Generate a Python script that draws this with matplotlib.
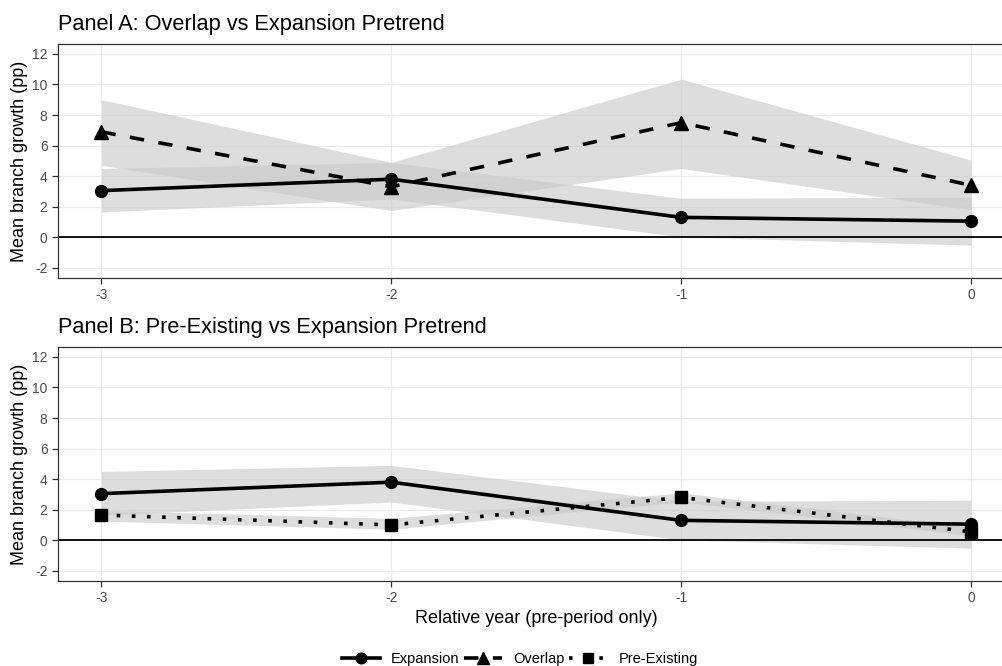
import matplotlib
matplotlib.use("Agg")
import matplotlib.pyplot as plt
from matplotlib.lines import Line2D

plt.rcParams['font.family'] = ['Liberation Sans', 'DejaVu Sans']

years = [-3, -2, -1, 0]

expansion = [3.05, 3.8, 1.3, 1.05]
expansion_lo = [1.65, 2.5, 0.02, -0.52]
expansion_hi = [4.5, 4.9, 2.55, 2.62]

overlap = [6.9, 3.3, 7.5, 3.4]
overlap_lo = [4.7, 1.75, 4.5, 1.8]
overlap_hi = [9.0, 4.9, 10.35, 5.05]

preexisting = [1.65, 1.0, 2.8, 0.55]
preexisting_lo = [1.25, 0.72, 2.5, 0.3]
preexisting_hi = [1.95, 1.43, 3.1, 0.85]

yticks = [-2, 0, 2, 4, 6, 8, 10, 12]
xticks = [-3, -2, -1, 0]

W, H = 1002, 666
fig = plt.figure(figsize=(W / 100, H / 100), dpi=100)

def px_axes(left, top, right, bottom):
    return fig.add_axes([left / W, 1 - bottom / H, (right - left) / W, (bottom - top) / H])

axA = px_axes(58, 44, 1014.5, 278)
axB = px_axes(58, 347, 1014.5, 581)

band_kw = dict(color='#cccccc', alpha=0.65, linewidth=0)
LW = 2.6

styles = {
    'Expansion': dict(linestyle='-', marker='o', markersize=8.5),
    'Overlap': dict(linestyle=(0, (4, 4)), marker='^', markersize=9.5),
    'Pre-Existing': dict(linestyle=(0, (1, 3.2)), marker='s', markersize=8.5),
}

def style_axes(ax, title):
    ax.set_xlim(-3.15, 0.15)
    ax.set_ylim(-2.67, 12.65)
    ax.set_xticks(xticks)
    ax.set_xticklabels([str(x) for x in xticks])
    ax.set_yticks(yticks)
    ax.set_yticklabels([str(y) for y in yticks])
    ax.grid(True, color='#ebebeb', linewidth=0.9)
    ax.set_axisbelow(True)
    for s in ax.spines.values():
        s.set_color('#333333')
        s.set_linewidth(0.9)
    ax.tick_params(axis='both', colors='#333333', labelcolor='#4d4d4d', labelsize=10,
                   length=4, width=0.9, direction='out')
    ax.set_ylabel('Mean branch growth (pp)', fontsize=13, color='black', labelpad=3)
    ax.set_title(title, loc='left', fontsize=15.7, pad=10)
    ax.axhline(0, color='black', linewidth=1.3, zorder=2)

def series(ax, y, lo, hi, name):
    ax.fill_between(years, lo, hi, zorder=1, **band_kw)
    st = styles[name]
    ax.plot(years, y, color='black', linewidth=LW, linestyle=st['linestyle'],
            dash_capstyle='butt', zorder=3)
    ax.plot(years, y, color='black', linestyle='none', marker=st['marker'],
            markersize=st['markersize'], zorder=4)

style_axes(axA, 'Panel A: Overlap vs Expansion Pretrend')
series(axA, expansion, expansion_lo, expansion_hi, 'Expansion')
series(axA, overlap, overlap_lo, overlap_hi, 'Overlap')

style_axes(axB, 'Panel B: Pre-Existing vs Expansion Pretrend')
series(axB, expansion, expansion_lo, expansion_hi, 'Expansion')
series(axB, preexisting, preexisting_lo, preexisting_hi, 'Pre-Existing')
axB.set_xlabel('Relative year (pre-period only)', fontsize=13, labelpad=3)

handles = []
for name in ['Expansion', 'Overlap', 'Pre-Existing']:
    st = styles[name]
    handles.append(Line2D([], [], color='black', linewidth=LW, linestyle=st['linestyle'],
                          marker=st['marker'], markersize=st['markersize'] * 0.9,
                          dash_capstyle='butt'))
fig.legend(handles, ['Expansion', 'Overlap', 'Pre-Existing'], loc='center',
           bbox_to_anchor=(520 / W, 1 - 659 / H), ncol=3, frameon=False,
           fontsize=10.5, handlelength=2.6, columnspacing=0.3, handletextpad=0.8)

fig.savefig('out.png', dpi=100)
